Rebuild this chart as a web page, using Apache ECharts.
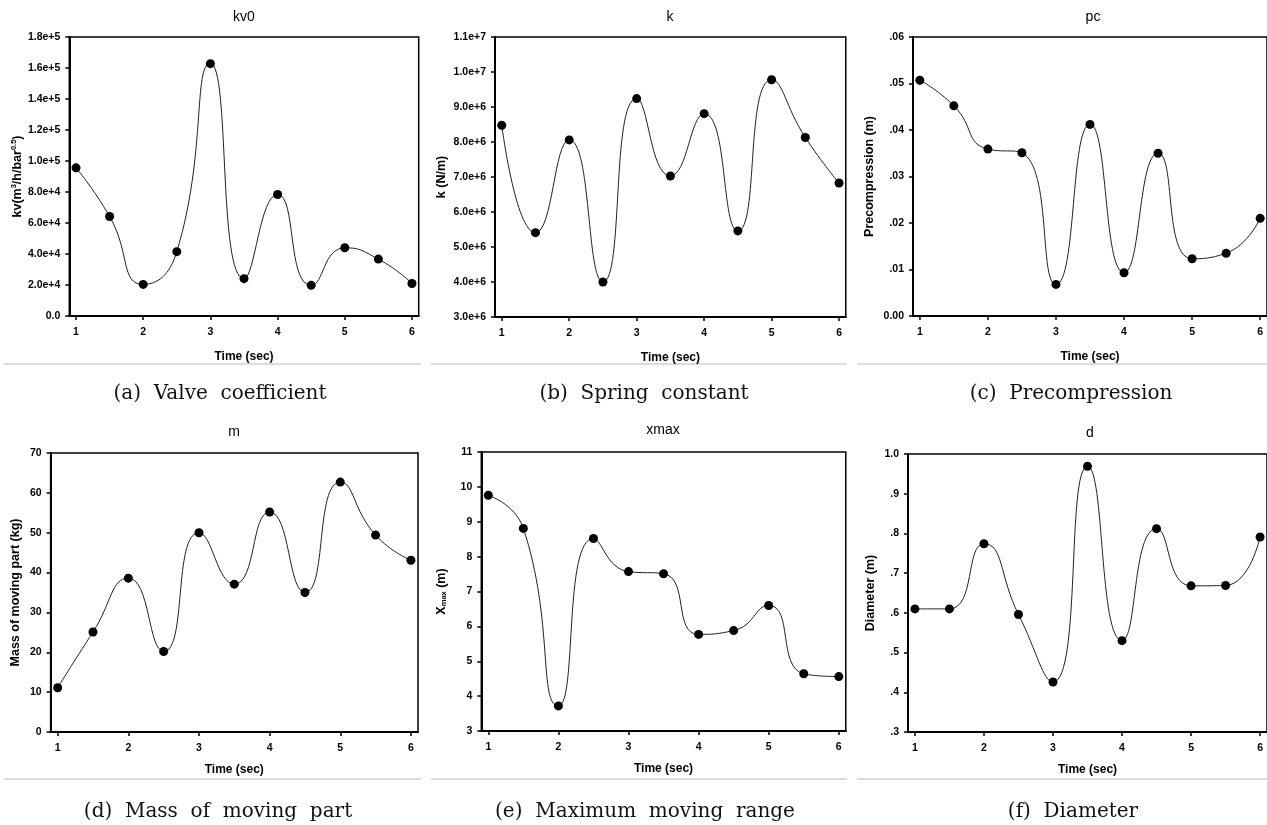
<!DOCTYPE html>
<html>
<head>
<meta charset="utf-8">
<script src="https://cdn.jsdelivr.net/npm/echarts@6/dist/echarts.min.js"></script>
<style>
html,body{margin:0;padding:0;background:#fff;overflow:hidden;}
#chart{width:1267px;height:825px;}
</style>
</head>
<body>
<div id="chart"></div>
<script>
// ---- data ----
const timeSec = [1, 1.5, 2, 2.5, 3, 3.5, 4, 4.5, 5, 5.5, 6];
const xTicks = [1, 2, 3, 4, 5, 6];
const kv0 = [95600, 64200, 20400, 41500, 162800, 24100, 78400, 19800, 44000, 36700, 21000];
const kSpring = [8.48e6, 5.41e6, 8.06e6, 4.0e6, 9.24e6, 7.03e6, 8.81e6, 5.46e6, 9.78e6, 8.13e6, 6.83e6];
const pc = [0.0507, 0.0452, 0.0359, 0.0351, 0.0068, 0.0412, 0.0093, 0.0350, 0.0123, 0.0135, 0.0210];
const mass = [11.1, 25.1, 38.6, 20.2, 50.0, 37.1, 55.2, 35.0, 62.7, 49.4, 43.1];
const xmax = [9.76, 8.81, 3.72, 8.52, 7.57, 7.51, 5.77, 5.88, 6.60, 4.64, 4.56];
const diam = [0.610, 0.610, 0.774, 0.596, 0.426, 0.969, 0.530, 0.812, 0.668, 0.669, 0.791];

const panelTitles = ['kv0', 'k', 'pc', 'm', 'xmax', 'd'];
const captions = ['(a)  Valve  coefficient', '(b)  Spring  constant', '(c)  Precompression',
                  '(d)  Mass  of  moving  part', '(e)  Maximum  moving  range', '(f)  Diameter'];
const xName = 'Time (sec)';

// ---- layout ----
const grids = [
  {left: 69.3, top: 37, width: 349.4, height: 279},
  {left: 495, top: 37, width: 350.8, height: 280},
  {left: 913, top: 37, width: 358.8, height: 279},
  {left: 50.6, top: 453, width: 367.4, height: 279},
  {left: 481.3, top: 452, width: 364.5, height: 279},
  {left: 908, top: 454, width: 364, height: 278}
];
const yCfg = [
  {min: 0, max: 180000, interval: 20000, fmt: v => v === 0 ? '0.0' : v.toExponential(1),
   name: 'kv(m{sup|3}/h/bar{sup|0.5})', gap: 45},
  {min: 3e6, max: 1.1e7, interval: 1e6, fmt: v => v.toExponential(1), name: 'k (N/m)', gap: 47},
  {min: 0, max: 0.06, interval: 0.01, fmt: v => Math.abs(v) < 1e-9 ? '0.00' : v.toFixed(2).replace(/^0/, ''),
   name: 'Precompression (m)', gap: 37},
  {min: 0, max: 70, interval: 10, fmt: v => String(Math.round(v)), name: 'Mass of moving part (kg)', gap: 29},
  {min: 3, max: 11, interval: 1, fmt: v => String(Math.round(v)), name: 'X{sub|max} (m)', gap: 33},
  {min: 0.3, max: 1.0, interval: 0.1, fmt: v => { const s = v.toFixed(1); return s.startsWith('0') ? s.slice(1) : s; },
   name: 'Diameter (m)', gap: 31}
];
const seriesData = [kv0, kSpring, pc, mass, xmax, diam];

const FONT = '"Liberation Sans", Arial, sans-serif';

const option = {
  animation: false,
  backgroundColor: '#fff',
  grid: grids.map(g => Object.assign({show: true, borderColor: '#000', borderWidth: 1.5,
    backgroundColor: 'transparent', containLabel: false}, g)),
  xAxis: grids.map((g, i) => ({
    type: 'value', gridIndex: i, min: 0.9, max: 6.1,
    name: xName, nameLocation: 'middle', nameGap: i < 3 ? 35 : 32,
    nameTextStyle: {fontFamily: FONT, fontWeight: 'bold', fontSize: 12, color: '#000'},
    splitLine: {show: false},
    axisLine: {show: true, onZero: false, lineStyle: {color: '#000', width: 2}},
    axisTick: {show: true, length: 4, customValues: xTicks, lineStyle: {color: '#000', width: 1.5}},
    axisLabel: {customValues: xTicks, margin: 11, fontFamily: FONT, fontWeight: 'bold', fontSize: 10.5, color: '#000'}
  })),
  yAxis: yCfg.map((c, i) => ({
    type: 'value', gridIndex: i, min: c.min, max: c.max, interval: c.interval,
    name: c.name, nameLocation: 'middle', nameGap: c.gap, nameRotate: 90,
    nameTextStyle: {fontFamily: FONT, fontWeight: 'bold', fontSize: 12.5, color: '#000',
      rich: {
        sup: {fontFamily: FONT, fontWeight: 'bold', fontSize: 7.5, color: '#000', verticalAlign: 'top', padding: [0, 0, 6, 0]},
        sub: {fontFamily: FONT, fontWeight: 'bold', fontSize: 7.5, color: '#000', verticalAlign: 'bottom', padding: [5, 0, 0, 0]}
      }},
    splitLine: {show: false},
    axisLine: {show: true, onZero: false, lineStyle: {color: '#000', width: 2}},
    axisTick: {show: true, length: 4, lineStyle: {color: '#000', width: 1.5}},
    axisLabel: {margin: 9, formatter: c.fmt, fontFamily: FONT, fontWeight: 'bold', fontSize: 10.5, color: '#000'}
  })),
  series: seriesData.map((arr, i) => ({
    type: 'line', xAxisIndex: i, yAxisIndex: i,
    data: timeSec.map((x, j) => [x, arr[j]]),
    smooth: 0.55,
    symbol: 'circle', symbolSize: 9,
    itemStyle: {color: '#000'},
    lineStyle: {color: '#222', width: 1},
    clip: false
  })),
  graphic: []
};

// panel titles
const titlePos = [[244, 17], [670, 17], [1093, 17], [234, 432], [663, 430], [1090, 433]];
panelTitles.forEach((t, i) => {
  option.graphic.push({type: 'text', x: titlePos[i][0], y: titlePos[i][1], silent: true,
    style: {text: t, fill: '#000', font: '14px ' + FONT, textAlign: 'center', textVerticalAlign: 'middle',
      align: 'center', verticalAlign: 'middle'}});
});
// separator lines
[[4, 421], [431, 847], [857, 1267]].forEach(([a, b]) => {
  [364, 779].forEach(y => {
    option.graphic.push({type: 'line', silent: true, shape: {x1: a, y1: y, x2: b, y2: y},
      style: {stroke: '#dcdcdc', lineWidth: 2}});
  });
});
// captions
const capPos = [[220, 394], [644, 394], [1071, 394], [218, 812], [645, 812], [1073, 812]];
captions.forEach((t, i) => {
  option.graphic.push({type: 'text', x: capPos[i][0], y: capPos[i][1], silent: true,
    style: {text: t, fill: '#111', font: '20px "DejaVu Serif", serif', textAlign: 'center', textVerticalAlign: 'middle',
      align: 'center', verticalAlign: 'middle'}});
});

const chart = echarts.init(document.getElementById('chart'), null, {renderer: 'canvas'});
chart.setOption(option);
</script>
</body>
</html>
